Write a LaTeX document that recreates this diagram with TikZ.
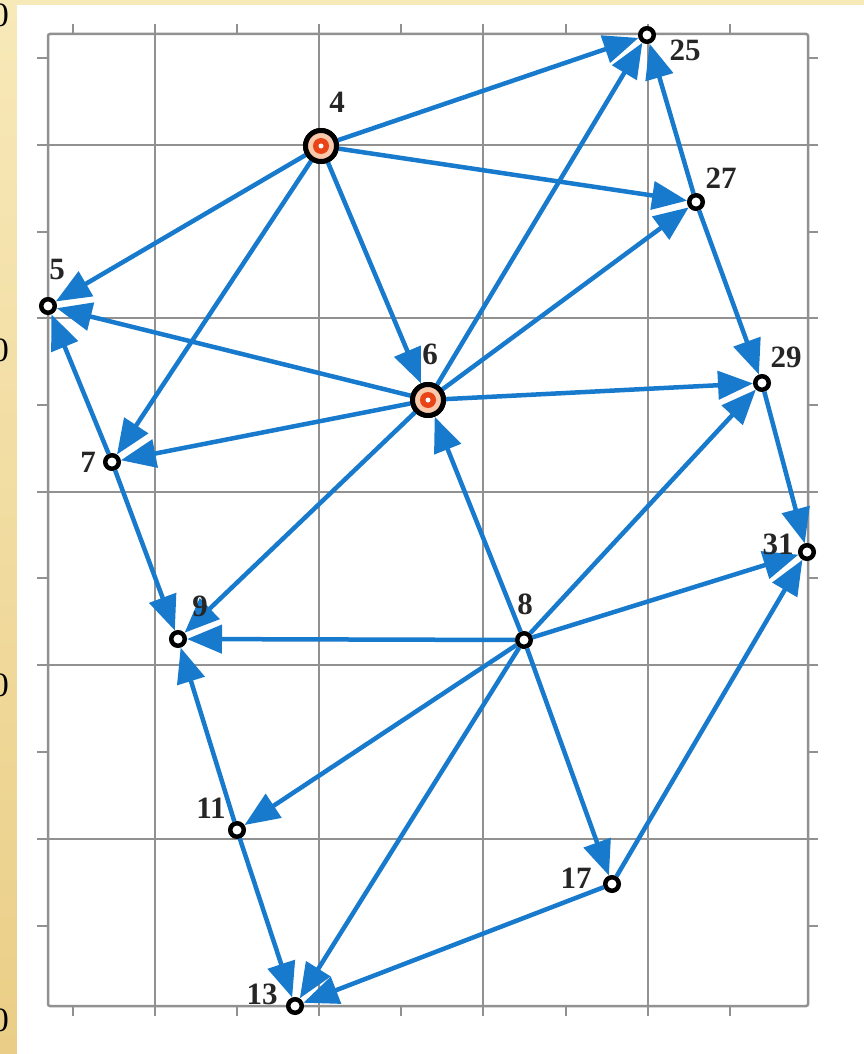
\documentclass[tikz,border=0pt]{standalone}
\usepackage{fontspec}
\setmainfont{Liberation Serif}
\usetikzlibrary{arrows.meta}
\definecolor{edgeblue}{RGB}{24,122,204}
\definecolor{gridgray}{RGB}{145,145,145}
\definecolor{beigeA}{RGB}{248,233,185}
\definecolor{beigeB}{RGB}{234,206,135}
\definecolor{dotred}{RGB}{232,68,24}
\definecolor{ringpeach}{RGB}{250,200,170}
\begin{document}
\begin{tikzpicture}[x=1pt,y=-1pt,
  small/.style={circle,draw=black,fill=white,line width=4pt,minimum size=14pt,inner sep=0pt},
  big/.style={circle,draw=black,fill=white,line width=5pt,minimum size=31pt,inner sep=0pt},
  lbl/.style={font=\fontsize{31}{33}\selectfont\bfseries,text=black!85,inner sep=0pt},
  edge/.style={draw=edgeblue,line width=4.5pt,-{Triangle[length=35pt,width=28pt]}},
  gridline/.style={draw=gridgray,line width=2pt},
  zero/.style={font=\fontsize{34}{36}\selectfont,inner sep=0pt,anchor=east}
]
\useasboundingbox (0,0) rectangle (864,1054);
% background
\shade[top color=beigeA,bottom color=beigeB] (0,0) rectangle (864,1054);
\fill[white] (17,5) rectangle (864,1054);
\foreach \yy/\nm in {15/za,350/zb,685/zc,1020/zd}
  \node[zero] (\nm) at (9,\yy) {0};
% grid
\foreach \xx in {155,319,483,648}
  \draw[gridline] (\xx,24) -- (\xx,1016);
\foreach \yy in {145,318,492,665,839}
  \draw[gridline] (37,\yy) -- (818,\yy);
\foreach \xx in {73,237,401,566,730}{
  \draw[gridline] (\xx,24) -- (\xx,34);
  \draw[gridline] (\xx,1006) -- (\xx,1016);}
\foreach \yy in {58,232,405,578,752,926}{
  \draw[gridline] (37,\yy) -- (48,\yy);
  \draw[gridline] (808,\yy) -- (818,\yy);}
\draw[gridline,line width=2.5pt,rounded corners=2pt] (48,34) rectangle (808,1006);
% nodes
\node[small] (n25) at (647,35) {};
\node[big]   (n4)  at (321,146) {};
\node[small] (n27) at (696,202) {};
\node[small] (n5)  at (48,306) {};
\node[big]   (n6)  at (428,400) {};
\node[small] (n29) at (762,383) {};
\node[small] (n7)  at (112,462) {};
\node[small] (n31) at (807,552) {};
\node[small] (n9)  at (178,639) {};
\node[small] (n8)  at (524,640) {};
\node[small] (n11) at (237,830) {};
\node[small] (n17) at (612,884) {};
\node[small] (n13) at (295,1006) {};
% edges
\foreach \a/\b in {n4/n25,n4/n27,n4/n5,n4/n7,n4/n6,
  n6/n25,n6/n27,n6/n29,n6/n5,n6/n7,n6/n9,
  n27/n25,n27/n29,n29/n31,n7/n5,n7/n9,
  n8/n6,n8/n29,n8/n31,n8/n9,n8/n11,n8/n13,n8/n17,
  n11/n9,n11/n13,n17/n31,n17/n13}
  \draw[edge] (\a) -- (\b);
% redraw nodes on top
\foreach \n in {n25,n27,n5,n29,n7,n31,n9,n8,n11,n17,n13}
  \draw[black,line width=4pt,fill=white] (\n) circle (6.5pt);
\foreach \n in {n4,n6}{
  \draw[black,line width=5pt,fill=ringpeach] (\n) circle (15.5pt);
  \fill[dotred] (\n) circle (8pt);
  \fill[white] (\n) circle (2.5pt);}
% labels
\node[lbl] (l25) at (685,50) {25};
\node[lbl] (l4)  at (337,102) {4};
\node[lbl] (l27) at (721,178) {27};
\node[lbl] (l5)  at (57,270) {5};
\node[lbl] (l6)  at (430,354) {6};
\node[lbl] (l29) at (786,357) {29};
\node[lbl] (l7)  at (88,462) {7};
\node[lbl] (l31) at (778,544) {31};
\node[lbl] (l9)  at (200,606) {9};
\node[lbl] (l8)  at (525,604) {8};
\node[lbl] (l11) at (211,808) {11};
\node[lbl] (l17) at (576,878) {17};
\node[lbl] (l13) at (262,994) {13};
\end{tikzpicture}
\end{document}
